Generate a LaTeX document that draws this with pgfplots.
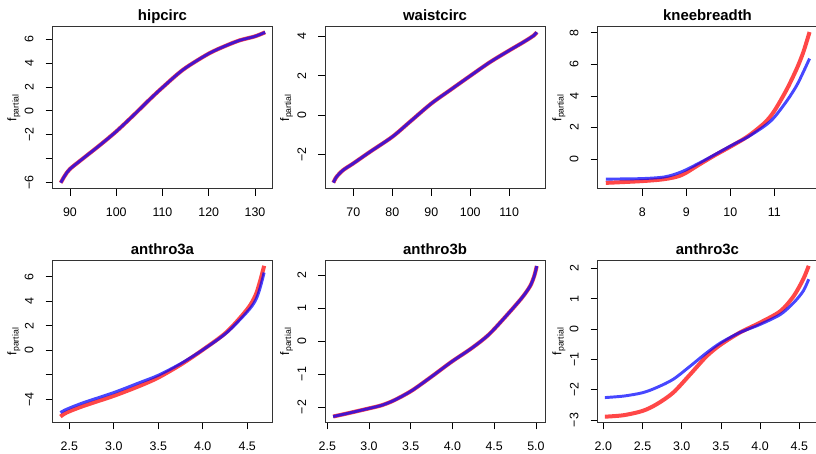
\documentclass[border=0pt]{standalone}
\usepackage{fontspec}
\setmainfont{Liberation Sans}
\usepackage{pgfplots}
\pgfplotsset{compat=1.18}
\definecolor{rred}{RGB}{255,0,0}
\definecolor{rblue}{RGB}{0,0,255}
\pgfplotsset{
  rpanel/.style={
    scale only axis, width=164.8pt, height=121.8pt, anchor=south west,
    axis line style={black!80, line width=0.6pt},
    tick align=outside, xtick pos=bottom, ytick pos=left,
    major tick length=5.25pt, tick style={black, line width=0.6pt},
    tick label style={font=\fontsize{9.3}{10}\selectfont},
    xticklabel style={anchor=north, yshift=-5.5pt},
    yticklabel style={rotate=90, anchor=south},
    yticklabel shift=5.5pt,
    every axis title/.style={font=\bfseries\fontsize{11.2}{13}\selectfont, at={(0.5,1)}, anchor=base, yshift=4.5pt},
    ylabel={f\textsubscript{partial}},
    every axis y label/.style={font=\fontsize{9.3}{10}\selectfont, at={(axis description cs:-0.176,0.5)}, anchor=center, rotate=90},
    /pgf/number format/assume math mode=true,
    clip=false,
  },
  redc/.style={rred, opacity=0.72, line width=3pt, smooth, no markers},
  bluec/.style={rblue, opacity=0.72, line width=2.2pt, smooth, no markers},
}
\begin{document}
\begin{tikzpicture}
\useasboundingbox (0,0) rectangle (612pt,339.75pt);
% panel 1
\begin{axis}[rpanel, at={(39.45pt,198.2pt)}, title={hipcirc},
  xmin=86.24, xmax=133.76, ymin=-6.5, ymax=7.06,
  xtick={90,100,110,120,130},
  ytick={-6,-4,-2,0,2,4,6}, yticklabels={−6,,−2,0,2,4,6}]
\addplot[redc] coordinates {(88.0,-6.0) (88.9,-5.4) (90,-4.85) (92.9,-3.95) (96.5,-2.85) (100,-1.72) (103.7,-0.38) (107.3,0.98) (110,1.95) (114.5,3.45) (120,4.78) (123.9,5.47) (126.8,5.9) (130,6.22) (132.2,6.56)};
\addplot[bluec] coordinates {(88.0,-6.0) (88.9,-5.4) (90,-4.85) (92.9,-3.95) (96.5,-2.85) (100,-1.72) (103.7,-0.38) (107.3,0.98) (110,1.95) (114.5,3.45) (120,4.78) (123.9,5.47) (126.8,5.9) (130,6.22) (132.2,6.56)};
\end{axis}
% panel 2
\begin{axis}[rpanel, at={(243.9pt,198.2pt)}, title={waistcirc},
  xmin=62.77, xmax=119.19, ymin=-3.74, ymax=4.52,
  xtick={70,80,90,100,110},
  ytick={-2,0,2,4}, yticklabels={−2,0,2,4}]
\addplot[redc] coordinates {(64.86,-3.43) (65.7,-3.13) (67.4,-2.79) (70,-2.45) (74.3,-1.86) (80,-1.10) (84.5,-0.34) (90,0.59) (94.8,1.27) (100,2.0) (105.1,2.70) (110,3.29) (113.7,3.72) (116.3,4.05) (117.1,4.22)};
\addplot[bluec] coordinates {(64.86,-3.43) (65.7,-3.13) (67.4,-2.79) (70,-2.45) (74.3,-1.86) (80,-1.10) (84.5,-0.34) (90,0.59) (94.8,1.27) (100,2.0) (105.1,2.70) (110,3.29) (113.7,3.72) (116.3,4.05) (117.1,4.22)};
\end{axis}
% panel 3
\begin{axis}[rpanel, at={(448.2pt,198.2pt)}, title={kneebreadth},
  xmin=6.984, xmax=11.977, ymin=-1.87, ymax=8.40,
  xtick={8,9,10,11},
  ytick={0,2,4,6,8}]
\addplot[redc] coordinates {(7.17,-1.50) (7.98,-1.39) (8.51,-1.26) (8.89,-1.01) (9.27,-0.38) (9.65,0.25) (10.02,0.82) (10.4,1.45) (10.78,2.3) (11.0,3.05) (11.28,4.4) (11.51,5.73) (11.66,6.78) (11.8,8.04)};
\addplot[bluec] coordinates {(7.17,-1.26) (7.98,-1.23) (8.51,-1.12) (8.89,-0.80) (9.27,-0.28) (9.65,0.29) (10.02,0.86) (10.4,1.41) (10.78,2.1) (11.0,2.65) (11.3,3.75) (11.51,4.67) (11.66,5.52) (11.8,6.36)};
\end{axis}
% panel 4
\begin{axis}[rpanel, at={(39.45pt,22.9pt)}, title={anthro3a},
  xmin=2.312, xmax=4.782, ymin=-5.89, ymax=7.35,
  xtick={2.5,3.0,3.5,4.0,4.5}, xticklabels={2.5,3.0,3.5,4.0,4.5},
  ytick={-4,-2,0,2,4,6}, yticklabels={−4,,0,2,4,6}]
\addplot[redc] coordinates {(2.40,-5.41) (2.47,-5.08) (2.66,-4.54) (3.0,-3.72) (3.29,-2.91) (3.5,-2.23) (3.76,-1.14) (4.0,0.03) (4.27,1.49) (4.5,3.34) (4.59,4.43) (4.64,5.52) (4.69,6.88)};
\addplot[bluec] coordinates {(2.40,-5.08) (2.47,-4.81) (2.66,-4.27) (3.0,-3.45) (3.29,-2.64) (3.5,-2.04) (3.76,-1.06) (4.0,0.03) (4.27,1.44) (4.5,3.13) (4.59,4.02) (4.64,4.97) (4.69,6.33)};
\end{axis}
% panel 5
\begin{axis}[rpanel, at={(243.9pt,22.9pt)}, title={anthro3b},
  xmin=2.475, xmax=5.108, ymin=-2.47, ymax=2.45,
  xtick={2.5,3.0,3.5,4.0,4.5,5.0}, xticklabels={2.5,3.0,3.5,4.0,4.5,5.0},
  ytick={-2,-1,0,1,2}, yticklabels={−2,−1,0,1,2}]
\addplot[redc] coordinates {(2.57,-2.29) (2.75,-2.19) (2.99,-2.05) (3.15,-1.95) (3.3,-1.8) (3.51,-1.51) (3.75,-1.08) (3.99,-0.63) (4.23,-0.22) (4.43,0.18) (4.63,0.72) (4.83,1.3) (4.93,1.66) (4.98,1.97) (5.01,2.27)};
\addplot[bluec] coordinates {(2.57,-2.29) (2.75,-2.19) (2.99,-2.05) (3.15,-1.95) (3.3,-1.8) (3.51,-1.51) (3.75,-1.08) (3.99,-0.63) (4.23,-0.22) (4.43,0.18) (4.63,0.72) (4.83,1.3) (4.93,1.66) (4.98,1.97) (5.01,2.27)};
\end{axis}
% panel 6
\begin{axis}[rpanel, at={(448.2pt,22.9pt)}, title={anthro3c},
  xmin=1.927, xmax=4.73, ymin=-3.08, ymax=2.27,
  xtick={2.0,2.5,3.0,3.5,4.0,4.5}, xticklabels={2.0,2.5,3.0,3.5,4.0,4.5},
  ytick={-3,-2,-1,0,1,2}, yticklabels={−3,−2,−1,0,1,2}]
\addplot[redc] coordinates {(2.02,-2.89) (2.26,-2.84) (2.5,-2.70) (2.68,-2.48) (2.89,-2.10) (3.11,-1.49) (3.32,-0.89) (3.5,-0.51) (3.74,-0.12) (4.0,0.21) (4.26,0.59) (4.43,1.09) (4.55,1.64) (4.62,2.08)};
\addplot[bluec] coordinates {(2.02,-2.26) (2.26,-2.21) (2.5,-2.10) (2.68,-1.93) (2.89,-1.66) (3.11,-1.22) (3.32,-0.78) (3.5,-0.45) (3.74,-0.12) (4.0,0.15) (4.26,0.48) (4.43,0.87) (4.55,1.25) (4.62,1.64)};
\end{axis}
\end{tikzpicture}
\end{document}
